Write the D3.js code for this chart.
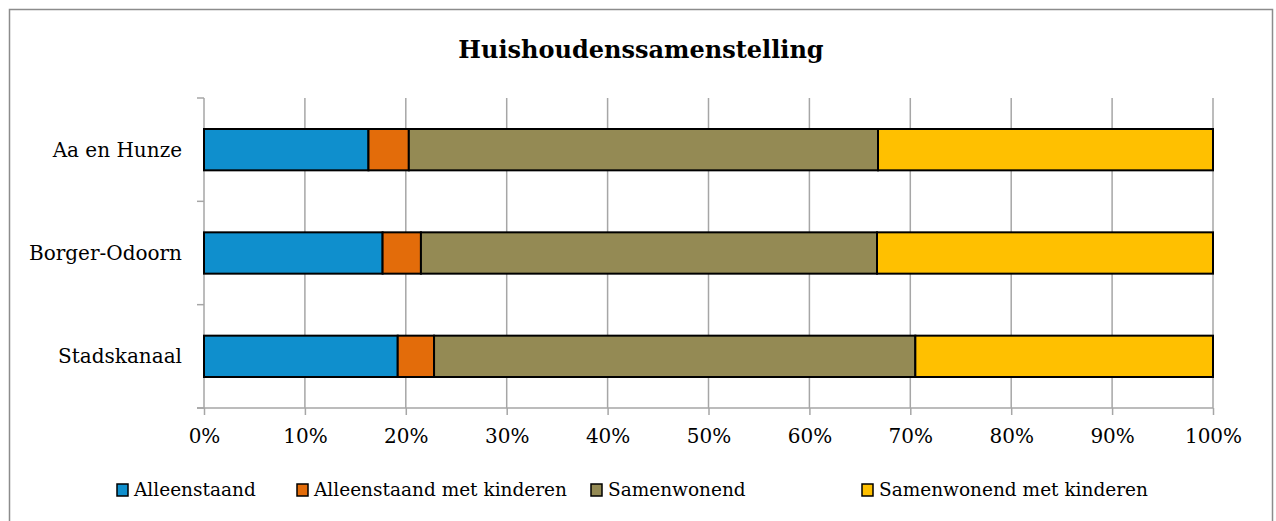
<!DOCTYPE html>
<html>
<head>
<meta charset="utf-8">
<script src="https://cdn.jsdelivr.net/npm/d3@7"></script>
<style>
  body { margin: 0; background: #fff; }
  text { font-family: "DejaVu Serif", "Liberation Serif", serif; fill: #000; }
</style>
</head>
<body>
<script>
// data
const gemeenten = ['Aa en Hunze', 'Borger-Odoorn', 'Stadskanaal'];
const series = ['Alleenstaand', 'Alleenstaand met kinderen', 'Samenwonend', 'Samenwonend met kinderen'];
const alleenstaand = [16.3, 17.7, 19.2];
const alleenstaandKinderen = [4.0, 3.8, 3.6];
const samenwonend = [46.5, 45.2, 47.7];
const samenwonendKinderen = [33.2, 33.3, 29.5];
const tickValues = [0, 10, 20, 30, 40, 50, 60, 70, 80, 90, 100];
const colors = ['#0f8fcd', '#e36c0a', '#948a54', '#ffc000'];

const W = 1276, H = 521;
const svg = d3.select('body').append('svg')
    .attr('width', W)
    .attr('height', H);

// kader
svg.append('rect')
    .attr('x', 9.5).attr('y', 9.5)
    .attr('width', 1263).attr('height', 530)
    .attr('fill', '#fff')
    .attr('stroke', '#8c8c8c')
    .attr('stroke-width', 1.5);

svg.append('text')
    .attr('x', 641).attr('y', 58)
    .attr('text-anchor', 'middle')
    .attr('font-size', 24)
    .attr('font-weight', 'bold')
    .text('Huishoudenssamenstelling');

const pLeft = 204, pRight = 1213, pTop = 98, pBottom = 408;

const x = d3.scaleLinear().domain([0, 100]).range([pLeft, pRight]);
const y = d3.scaleBand().domain(gemeenten).range([pTop, pBottom])
    .paddingInner(0.6).paddingOuter(0.3);

// tabel voor stack
const rows = gemeenten.map((g, i) => ({
  gemeente: g,
  [series[0]]: alleenstaand[i],
  [series[1]]: alleenstaandKinderen[i],
  [series[2]]: samenwonend[i],
  [series[3]]: samenwonendKinderen[i]
}));
const stacked = d3.stack().keys(series)(rows);

// gridlijnen
svg.append('g').selectAll('line')
    .data(tickValues.slice(1))
    .enter().append('line')
    .attr('x1', d => x(d)).attr('x2', d => x(d))
    .attr('y1', pTop).attr('y2', pBottom)
    .attr('stroke', '#a6a6a6')
    .attr('stroke-width', 1.5);

// x as
const xAxis = svg.append('g')
    .attr('transform', 'translate(0,' + pBottom + ')')
    .call(d3.axisBottom(x).tickValues(tickValues).tickFormat(d => d + '%').tickSize(7).tickSizeOuter(0).tickPadding(14));
xAxis.select('.domain').attr('stroke', '#a6a6a6').attr('stroke-width', 1.5)
    .attr('d', 'M' + (pLeft - 7) + ',0H' + pRight);
xAxis.selectAll('line').attr('stroke', '#a6a6a6').attr('stroke-width', 1.5);
xAxis.selectAll('text').attr('font-size', 20).attr('font-family', '"DejaVu Serif", serif');

// y as
const bounds = [pTop].concat(gemeenten.map(g => y(g) + y.bandwidth() + y.step() * 0.3));
const yAxis = svg.append('g');
yAxis.append('line')
    .attr('x1', pLeft).attr('x2', pLeft)
    .attr('y1', pTop).attr('y2', pBottom)
    .attr('stroke', '#a6a6a6').attr('stroke-width', 1.5);
yAxis.selectAll('.tick')
    .data(bounds)
    .enter().append('line')
    .attr('x1', pLeft - 7).attr('x2', pLeft)
    .attr('y1', d => d).attr('y2', d => d)
    .attr('stroke', '#a6a6a6').attr('stroke-width', 1.5);
yAxis.selectAll('.lbl')
    .data(gemeenten)
    .enter().append('text')
    .attr('x', 182)
    .attr('y', d => y(d) + y.bandwidth() / 2)
    .attr('dy', '0.35em')
    .attr('text-anchor', 'end')
    .attr('font-size', 20)
    .text(d => d);

// balken
svg.append('g').selectAll('g')
    .data(stacked)
    .enter().append('g')
    .attr('fill', (d, i) => colors[i])
    .selectAll('rect')
    .data(d => d)
    .enter().append('rect')
    .attr('x', d => x(d[0]))
    .attr('width', d => x(d[1]) - x(d[0]))
    .attr('y', d => y(d.data.gemeente))
    .attr('height', y.bandwidth())
    .attr('stroke', '#000')
    .attr('stroke-width', 2);

// legenda
const legendX = [117, 297, 591, 862];
const legend = svg.append('g').selectAll('g')
    .data(series)
    .enter().append('g')
    .attr('transform', (d, i) => 'translate(' + legendX[i] + ',484)');
legend.append('rect')
    .attr('width', 11).attr('height', 12)
    .attr('fill', (d, i) => colors[i])
    .attr('stroke', '#000')
    .attr('stroke-width', 1.5);
legend.append('text')
    .attr('x', 17).attr('y', 6)
    .attr('dy', '0.35em')
    .attr('font-size', 18.5)
    .text(d => d);
</script>
</body>
</html>
